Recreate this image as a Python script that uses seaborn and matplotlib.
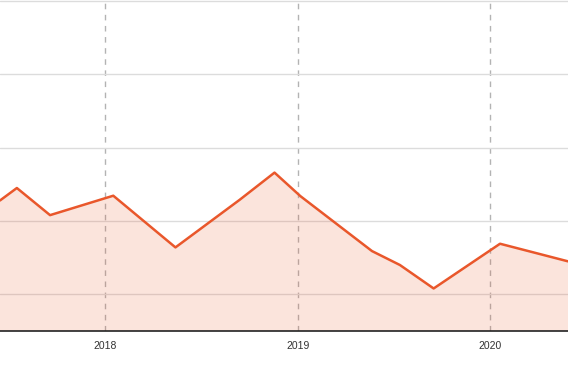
import numpy as np
import pandas as pd
import seaborn as sns
import matplotlib.pyplot as plt
import matplotlib.dates as mdates

dates = ["2017-06-15", "2017-07-17", "2017-09-18", "2018-01-16", "2018-05-14",
         "2018-09-13", "2018-11-18", "2019-01-06", "2019-05-22", "2019-07-14",
         "2019-09-16", "2020-01-20", "2020-05-28"]
values = [17.8, 19.5, 15.8, 18.45, 11.4, 17.9, 21.6, 18.4, 10.9, 9.0, 5.8, 11.9, 9.5]
year_ticks = ["2018-01-01", "2019-01-01", "2020-01-01"]

df = pd.DataFrame({"date": pd.to_datetime(dates), "value": values})

sns.set_style("white")
plt.rcParams['font.family'] = ['Liberation Sans', 'DejaVu Sans']

fig = plt.figure(figsize=(5.68, 3.69), dpi=100)
ax = fig.add_axes([0, 38 / 369, 1, 331 / 369])

line_color = "#e9572b"
# translucent fill on top of the grid, like the original
ax.fill_between(df["date"], df["value"], 0, color=line_color, alpha=0.16, zorder=2, linewidth=0)
sns.lineplot(data=df, x="date", y="value", color=line_color, linewidth=1.8, ax=ax, zorder=3)

ax.set_xlim(df["date"].iloc[0], df["date"].iloc[-1])
ax.set_ylim(0, 45.14)
ax.set_yticks([5, 15, 25, 35, 45])
ax.yaxis.grid(True, color="#dcdcdc", linewidth=1, zorder=1)
ax.set_yticklabels([])
ax.tick_params(axis="y", length=0)

ax.set_xticks(pd.to_datetime(year_ticks))
ax.xaxis.set_major_formatter(mdates.DateFormatter("%Y"))
ax.xaxis.grid(True, color="#b3b3b3", linestyle=(0, (4, 4)), linewidth=1, zorder=1)
ax.tick_params(axis="x", length=0, pad=7, labelsize=7.5, labelcolor="#333333")
ax.set_axisbelow(True)

ax.set_xlabel("")
ax.set_ylabel("")
for side in ["top", "left", "right"]:
    ax.spines[side].set_visible(False)
ax.spines["bottom"].set_color("#222222")
ax.spines["bottom"].set_linewidth(1.2)
ax.spines["bottom"].set_zorder(4)

fig.savefig("out.png", dpi=100)
